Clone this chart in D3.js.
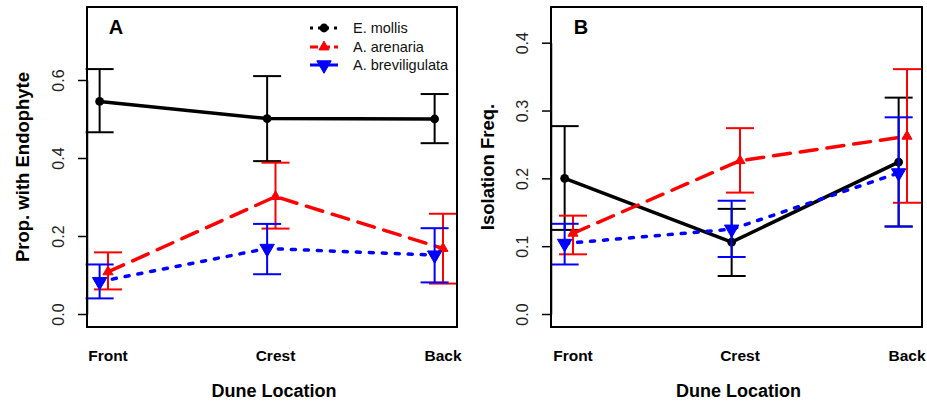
<!DOCTYPE html>
<html>
<head>
<meta charset="utf-8">
<script src="https://cdn.jsdelivr.net/npm/d3@7"></script>
<style>
  html, body { margin: 0; padding: 0; background: #fff; }
  svg { display: block; font-family: "Liberation Sans", Arial, sans-serif; }
</style>
</head>
<body>
<svg id="chart" width="927" height="404"></svg>
<script>
// Dune locations (x categories)
const locations = ["Front", "Crest", "Back"];
const seriesNames = ["E. mollis", "A. arenaria", "A. breviligulata"];

// Panel A: proportion of plants with endophyte (mean, lower, upper)
const propMollis       = [0.545, 0.501, 0.500];
const propMollisLo     = [0.466, 0.392, 0.438];
const propMollisHi     = [0.628, 0.610, 0.564];
const propArenaria     = [0.108, 0.301, 0.168];
const propArenariaLo   = [0.063, 0.219, 0.078];
const propArenariaHi   = [0.158, 0.388, 0.257];
const propBrevi        = [0.083, 0.168, 0.151];
const propBreviLo      = [0.040, 0.102, 0.081];
const propBreviHi      = [0.127, 0.231, 0.220];

// Panel B: isolation frequency (mean, lower, upper)
const isoMollis        = [0.200, 0.106, 0.224];
const isoMollisLo      = [0.124, 0.056, 0.129];
const isoMollisHi      = [0.277, 0.155, 0.319];
const isoArenaria      = [0.119, 0.226, 0.262];
const isoArenariaLo    = [0.088, 0.179, 0.164];
const isoArenariaHi    = [0.145, 0.274, 0.361];
const isoBrevi         = [0.104, 0.125, 0.208];
const isoBreviLo       = [0.073, 0.084, 0.129];
const isoBreviHi       = [0.133, 0.167, 0.290];

const ticksA = [0, 0.2, 0.4, 0.6];
const ticksB = [0, 0.1, 0.2, 0.3, 0.4];

const styles = [
  { color: "#000000", dash: null,   shape: "circle", offset: -0.05 },
  { color: "#ff0000", dash: "17 10", shape: "up",     offset: 0 },
  { color: "#0000ff", dash: "4 9",  shape: "down",   offset: -0.05 }
];

const svg = d3.select("#chart");

function buildSeries(means, los, his) {
  return means.map((m, i) => ({ m: m, lo: los[i], hi: his[i] }));
}

function marker(g, shape, color, x, y, size) {
  if (shape === "circle") {
    g.append("circle").attr("cx", x).attr("cy", y).attr("r", size * 0.55).attr("fill", color);
  } else {
    const sym = d3.symbol().type(d3.symbolTriangle).size(size * size * 0.9);
    g.append("path").attr("d", sym())
      .attr("transform", `translate(${x},${y})` + (shape === "down" ? " rotate(180)" : ""))
      .attr("fill", color).attr("stroke", color).attr("stroke-width", 1);
  }
}

function panel(opts) {
  const g = svg.append("g");
  const x = d3.scaleLinear().domain([1, 3]).range(opts.xRange);
  const y = d3.scaleLinear().domain([0, opts.yTop]).range(opts.yRange);

  // Y axis with rotated tick labels
  const axis = g.append("g")
    .attr("transform", `translate(${opts.box[0]},0)`)
    .call(d3.axisLeft(y).tickValues(opts.ticks).tickSize(9).tickFormat(d3.format(".1f")).tickSizeOuter(0));
  axis.select(".domain").attr("stroke", "#000").attr("stroke-width", 1.5);
  axis.selectAll(".tick line").attr("stroke", "#000").attr("stroke-width", 1.5);
  axis.selectAll(".tick text")
    .attr("x", 0).attr("dy", 0)
    .attr("transform", "translate(-29,0) rotate(-90)")
    .attr("text-anchor", "middle")
    .attr("dominant-baseline", "central")
    .attr("font-size", 16).attr("fill", "#222")
    .attr("font-family", "Liberation Sans, Arial, sans-serif");

  // Category labels
  g.selectAll(".cat").data(locations).enter().append("text")
    .attr("x", (d, i) => x(i + 1)).attr("y", 355)
    .attr("text-anchor", "middle").attr("dominant-baseline", "central")
    .attr("font-weight", "bold").attr("font-size", 15.5).text(d => d);

  g.append("text").attr("x", (opts.box[0] + opts.box[2]) / 2 + 2).attr("y", 391)
    .attr("text-anchor", "middle").attr("dominant-baseline", "central")
    .attr("font-weight", "bold").attr("font-size", 18).text("Dune Location");

  g.append("text").attr("transform", `translate(${opts.yLabelX},167) rotate(-90)`)
    .attr("text-anchor", "middle").attr("dominant-baseline", "central")
    .attr("font-weight", "bold").attr("font-size", 18.5).text(opts.yLabel);

  g.append("text").attr("x", opts.letterX).attr("y", 27)
    .attr("text-anchor", "middle").attr("dominant-baseline", "central")
    .attr("font-weight", "bold").attr("font-size", 20).text(opts.letter);

  // Series: lines, error bars, markers
  opts.series.forEach((s, k) => {
    const st = styles[k];
    const px = i => x(i + 1 + st.offset);
    const line = d3.line().x((d, i) => px(i)).y(d => y(d.m));
    g.append("path").datum(s).attr("d", line)
      .attr("fill", "none").attr("stroke", st.color).attr("stroke-width", 3.5)
      .attr("stroke-linecap", st.dash ? "round" : "butt")
      .attr("stroke-dasharray", st.dash);
    s.forEach((d, i) => {
      const cx = px(i);
      g.append("line").attr("x1", cx).attr("x2", cx).attr("y1", y(d.lo)).attr("y2", y(d.hi))
        .attr("stroke", st.color).attr("stroke-width", 2);
      [d.lo, d.hi].forEach(v => {
        g.append("line").attr("x1", cx - 14).attr("x2", cx + 14).attr("y1", y(v)).attr("y2", y(v))
          .attr("stroke", st.color).attr("stroke-width", 2);
      });
      marker(g, st.shape, st.color, cx, y(d.m), st.shape === "circle" ? 8 : (st.shape === "up" ? 7 : 10));
    });
  });

  // Plot frame
  g.append("rect").attr("x", opts.box[0]).attr("y", opts.box[1])
    .attr("width", opts.box[2] - opts.box[0]).attr("height", opts.box[3] - opts.box[1])
    .attr("fill", "none").attr("stroke", "#000").attr("stroke-width", 2);
  return g;
}

panel({
  box: [87, 7, 457, 327], xRange: [108, 443], yRange: [314, 80], yTop: 0.6, ticks: ticksA,
  yLabel: "Prop. with Endophyte", yLabelX: 22, letter: "A", letterX: 116,
  series: [
    buildSeries(propMollis, propMollisLo, propMollisHi),
    buildSeries(propArenaria, propArenariaLo, propArenariaHi),
    buildSeries(propBrevi, propBreviLo, propBreviHi)
  ]
});

panel({
  box: [551, 7, 922, 327], xRange: [573, 907], yRange: [314, 42.7], yTop: 0.4, ticks: ticksB,
  yLabel: "Isolation Freq.", yLabelX: 487, letter: "B", letterX: 581,
  series: [
    buildSeries(isoMollis, isoMollisLo, isoMollisHi),
    buildSeries(isoArenaria, isoArenariaLo, isoArenariaHi),
    buildSeries(isoBrevi, isoBreviLo, isoBreviHi)
  ]
});

// Legend in panel A
const legend = svg.append("g");
const legendRows = [28, 47, 65];
const legendDash = ["3 5", "8 4", null];
seriesNames.forEach((name, k) => {
  const st = styles[k];
  const yy = legendRows[k];
  legend.append("line").attr("x1", 310).attr("x2", 338).attr("y1", yy).attr("y2", yy)
    .attr("stroke", st.color).attr("stroke-width", 3)
    .attr("stroke-dasharray", legendDash[k]);
  marker(legend, st.shape, st.color, 324, yy, st.shape === "circle" ? 8 : (st.shape === "up" ? 7 : 10));
  legend.append("text").attr("x", 353).attr("y", yy).attr("dominant-baseline", "central")
    .attr("font-size", 14.5).attr("fill", "#111").text(name);
});
</script>
</body>
</html>
